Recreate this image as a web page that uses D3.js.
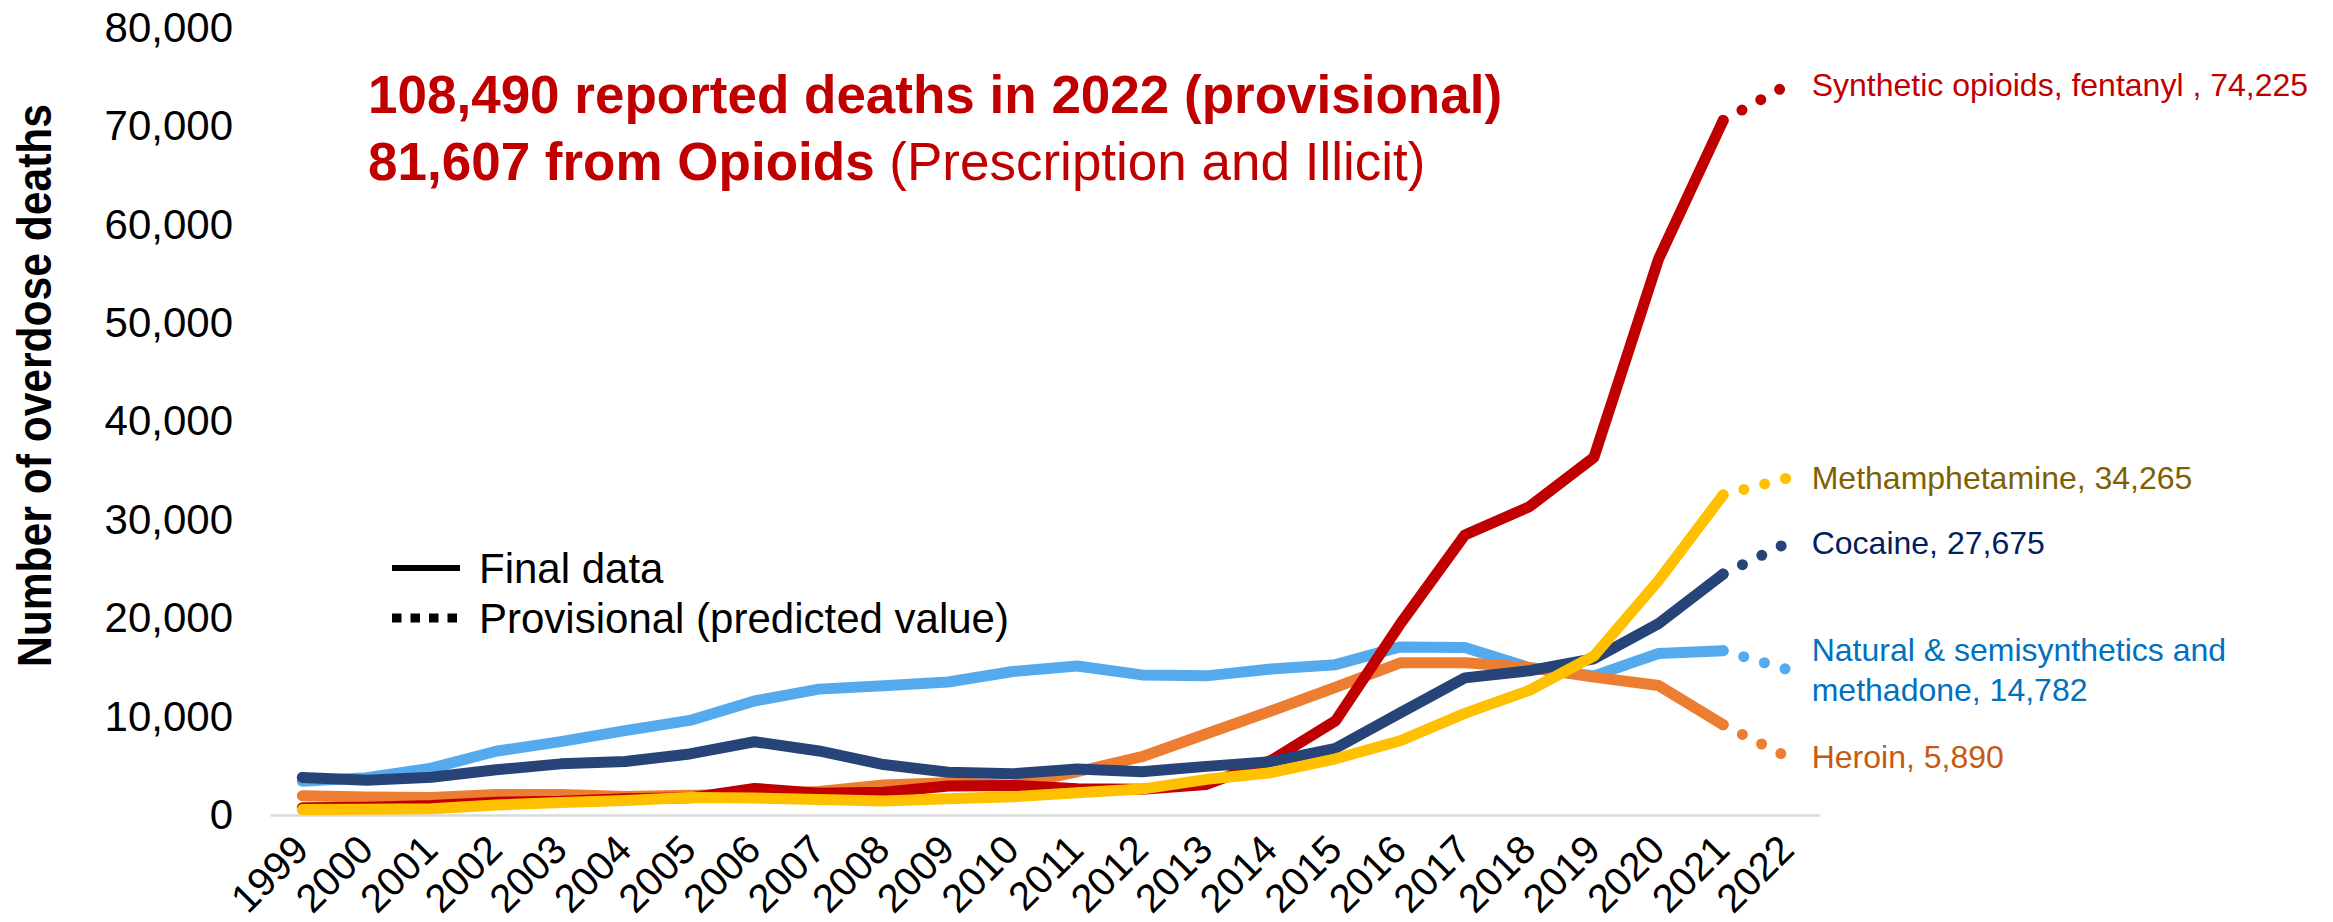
<!DOCTYPE html>
<html>
<head>
<meta charset="utf-8">
<script src="https://cdn.jsdelivr.net/npm/d3@7"></script>
<style>
  html, body { margin: 0; padding: 0; background: #fff; }
  svg { display: block; font-family: "Liberation Sans", Arial, sans-serif; }
</style>
</head>
<body>
<svg id="chart" width="2333" height="922"></svg>
<script>
// Years on the category axis; the last one is provisional
const years = ["1999","2000","2001","2002","2003","2004","2005","2006","2007","2008","2009","2010",
               "2011","2012","2013","2014","2015","2016","2017","2018","2019","2020","2021","2022"];

// Final counts 1999-2021
const syntheticFinal = [730, 782, 957, 1295, 1400, 1664, 1742, 2707, 2213, 2306, 2946, 3007,
                        2666, 2628, 3105, 5544, 9580, 19413, 28466, 31335, 36359, 56516, 70601];
const methFinal      = [547, 578, 637, 1024, 1278, 1472, 1787, 1718, 1588, 1427, 1640, 1854,
                        2266, 2635, 3627, 4298, 5716, 7542, 10333, 12676, 16167, 23837, 32537];
const cocaineFinal   = [3822, 3544, 3833, 4599, 5199, 5443, 6208, 7448, 6512, 5129, 4350, 4183,
                        4681, 4404, 4944, 5415, 6784, 10375, 13942, 14666, 15883, 19447, 24486];
const naturalFinal   = [3442, 3785, 4770, 6483, 7456, 8577, 9612, 11589, 12796, 13149, 13523, 14583,
                        15140, 14240, 14145, 14838, 15281, 17087, 17029, 14975, 14139, 16416, 16706];
const heroinFinal    = [1960, 1842, 1779, 2089, 2080, 1878, 2009, 2088, 2399, 3041, 3278, 3036,
                        4397, 5925, 8257, 10574, 12989, 15469, 15482, 14996, 14019, 13165, 9173];

// Provisional 2022 counts
const syntheticProv = 74225;
const methProv      = 34265;
const cocaineProv   = 27675;
const naturalProv   = 14782;
const heroinProv    = 5890;

// Series names (label lines) and colours
const seriesNames = {
  natural:   ["Natural & semisynthetics and", "methadone, "],
  heroin:    ["Heroin, "],
  synthetic: ["Synthetic opioids, fentanyl , "],
  cocaine:   ["Cocaine, "],
  meth:      ["Methamphetamine, "]
};

const yTicks = [0, 10000, 20000, 30000, 40000, 50000, 60000, 70000, 80000];

// Drawing order: first is at the bottom
const series = [
  { key: "natural",   final: naturalFinal,   prov: naturalProv,   line: "#55AAEE", text: "#0070C0" },
  { key: "heroin",    final: heroinFinal,    prov: heroinProv,    line: "#ED7D31", text: "#C55A11" },
  { key: "synthetic", final: syntheticFinal, prov: syntheticProv, line: "#C00000", text: "#C00000" },
  { key: "cocaine",   final: cocaineFinal,   prov: cocaineProv,   line: "#264478", text: "#002060" },
  { key: "meth",      final: methFinal,      prov: methProv,      line: "#FFC000", text: "#7F6000" }
];

const svg = d3.select("#chart");
const fmt = d3.format(",");

const x = d3.scalePoint().domain(years).range([270, 1820]).padding(0.5);
const y = d3.scaleLinear().domain([0, 80000]).range([815, 28]);

// Y axis (labels only)
const yAxis = svg.append("g")
  .attr("transform", "translate(270,0)")
  .call(d3.axisLeft(y).tickValues(yTicks).tickFormat(fmt).tickSize(0).tickPadding(37));
yAxis.select(".domain").remove();
yAxis.selectAll("text")
  .attr("font-family", "'Liberation Sans', Arial, sans-serif")
  .attr("font-size", 42).attr("fill", "#000");

// X axis: light baseline and rotated year labels
const xAxis = svg.append("g")
  .attr("transform", "translate(0,815)")
  .call(d3.axisBottom(x).tickSize(0).tickSizeOuter(0));
xAxis.select(".domain").attr("stroke", "#D9D9D9").attr("stroke-width", 2.5);
xAxis.selectAll("text")
  .attr("font-family", "'Liberation Sans', Arial, sans-serif")
  .attr("font-size", 40).attr("fill", "#000")
  .attr("text-anchor", "end")
  .attr("x", 0).attr("y", 0).attr("dy", null)
  .attr("transform", "translate(8,37) rotate(-45)");

// Y axis title
svg.append("text")
  .attr("transform", `translate(51,${(104 + 667) / 2}) rotate(-90)`)
  .attr("text-anchor", "middle")
  .attr("font-size", 48).attr("font-weight", "bold").attr("fill", "#000")
  .attr("textLength", 563).attr("lengthAdjust", "spacingAndGlyphs")
  .text("Number of overdose deaths");

// Lines
const line = d3.line().x(d => x(d.year)).y(d => y(d.value));
const lastFinal = years.length - 2;

series.forEach(s => {
  const finalPts = s.final.map((v, i) => ({ year: years[i], value: v }));
  const provPts = [
    { year: years[lastFinal], value: s.final[lastFinal] },
    { year: years[lastFinal + 1], value: s.prov }
  ];
  const g = svg.append("g").attr("class", "series " + s.key);
  g.append("path")
    .attr("d", line(finalPts))
    .attr("fill", "none").attr("stroke", s.line)
    .attr("stroke-width", 11)
    .attr("stroke-linecap", "round").attr("stroke-linejoin", "round");
  g.append("path")
    .attr("d", line(provPts))
    .attr("fill", "none").attr("stroke", s.line)
    .attr("stroke-width", 11)
    .attr("stroke-linecap", "round")
    .attr("stroke-dasharray", "0 21.5");
});

// End labels, centred on the 2022 point
series.forEach(s => {
  const lines = seriesNames[s.key].slice();
  lines[lines.length - 1] = lines[lines.length - 1] + fmt(s.prov);
  const lh = 40;
  const cy = y(s.prov);
  const t = svg.append("text")
    .attr("x", x(years[years.length - 1]) + 24)
    .attr("font-size", 32).attr("fill", s.text);
  lines.forEach((ln, i) => {
    t.append("tspan")
      .attr("x", x(years[years.length - 1]) + 24)
      .attr("y", cy + (i - (lines.length - 1) / 2) * lh)
      .attr("dy", "0.35em")
      .text(ln);
  });
});

// Headline
const head = svg.append("g").attr("fill", "#C00000");
head.append("text")
  .attr("x", 368).attr("y", 113)
  .attr("font-size", 53).attr("font-weight", "bold")
  .text("108,490 reported deaths in 2022 (provisional)");
const h2 = head.append("text").attr("x", 368).attr("y", 180).attr("font-size", 53);
h2.append("tspan").attr("font-weight", "bold").text("81,607 from Opioids ");
h2.append("tspan").text("(Prescription and Illicit)");

// Legend for line styles
const leg = svg.append("g");
leg.append("line")
  .attr("x1", 392).attr("x2", 460).attr("y1", 568).attr("y2", 568)
  .attr("stroke", "#000").attr("stroke-width", 6);
leg.append("line")
  .attr("x1", 392).attr("x2", 460).attr("y1", 618).attr("y2", 618)
  .attr("stroke", "#000").attr("stroke-width", 9)
  .attr("stroke-dasharray", "9.5 9");
leg.append("text").attr("x", 479).attr("y", 568).attr("dy", "0.35em")
  .attr("font-size", 42).attr("fill", "#000").text("Final data");
leg.append("text").attr("x", 479).attr("y", 618).attr("dy", "0.35em")
  .attr("font-size", 42).attr("fill", "#000").text("Provisional (predicted value)");
</script>
</body>
</html>
